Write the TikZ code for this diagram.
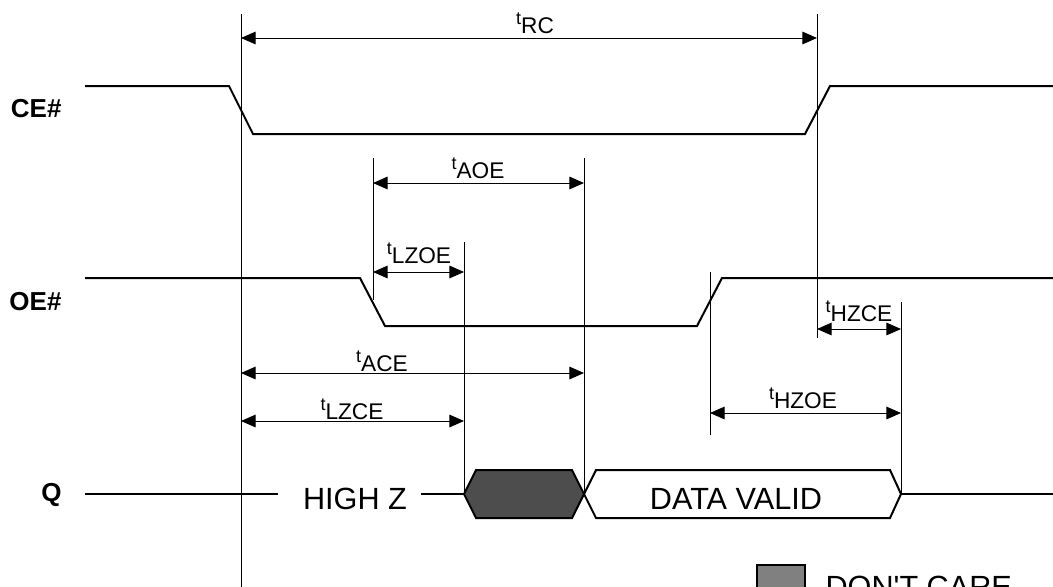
\documentclass[tikz,border=0pt]{standalone}
\usepackage{fontspec}
\setmainfont{Liberation Sans}
\usetikzlibrary{arrows.meta}
\tikzset{every picture/.style={line width=0.75pt}}
\newcommand{\tlab}[1]{\raisebox{6.5pt}{\fontsize{13.5}{13.5}\selectfont t}#1}

\begin{document}
\begin{tikzpicture}[x=0.75pt,y=0.75pt,yscale=-1,xscale=1,
  wave/.style={line width=1.5pt},
  dimline/.style={{Triangle[length=11pt,width=9.5pt]}-{Triangle[length=11pt,width=9.5pt]}},
  tlabel/.style={anchor=base,inner sep=0pt,font=\fontsize{17}{17}\selectfont},
  siglabel/.style={anchor=base east,inner sep=0pt,font=\fontsize{19.5}{19.5}\selectfont\bfseries},
  bustext/.style={anchor=base,inner sep=0pt,font=\fontsize{23}{23}\selectfont}]
\useasboundingbox (0,0) rectangle (1053,586);

%Straight Lines (time marks)
\draw (241,14) -- (241,600) ;
\draw (817,14) -- (817,338) ;
\draw (373,158) -- (373,300) ;
\draw (584,158) -- (584,494) ;
\draw (464,242) -- (464,494) ;
\draw (710,272) -- (710,435) ;
\draw (901,302) -- (901,494) ;

%Shape: CE# wave
\draw [wave] (85,86) -- (229,86) -- (253,134) -- (805,134) -- (830,86) -- (1053,86) ;
%Shape: OE# wave
\draw [wave] (85,278) -- (360,278) -- (385,326) -- (697,326) -- (722,278) -- (1053,278) ;

%Shape: Q bus
\draw [line width=1pt] (85,494) -- (278,494) ;
\draw [line width=1pt] (421,494) -- (464,494) ;
\draw [line width=1.5pt,fill={rgb, 255:red, 77; green, 77; blue, 77 }] (464,494) -- (476,470) -- (572,470) -- (584,494) -- (572,518) -- (476,518) -- cycle ;
\draw [line width=1.5pt,fill=white] (584,494) -- (596,470) -- (890,470) -- (901,494) -- (890,518) -- (596,518) -- cycle ;
\draw [line width=1pt] (901,494) -- (1053,494) ;

%Straight Lines (timing arrows)
\draw [dimline] (241,38) -- (817,38) ;
\draw [dimline] (373,183) -- (584,183) ;
\draw [dimline] (373,272) -- (464,272) ;
\draw [dimline] (241,373) -- (584,373) ;
\draw [dimline] (241,421) -- (464,421) ;
\draw [dimline] (817,329) -- (901,329) ;
\draw [dimline] (710,413) -- (901,413) ;

%Shape: legend box
\draw [line width=1.5pt,fill={rgb, 255:red, 128; green, 128; blue, 128 }] (757,565) rectangle (805,613) ;

% Text Node
\draw (62,117) node [siglabel] (ce) {CE\#};
% Text Node
\draw (62,310) node [siglabel] (oe) {OE\#};
% Text Node
\draw (62,501) node [siglabel] (q) {Q};
% Text Node
\draw (535,33) node [tlabel] (trc) {\tlab{RC}};
% Text Node
\draw (478,178) node [tlabel] (taoe) {\tlab{AOE}};
% Text Node
\draw (419,263) node [tlabel] (tlzoe) {\tlab{LZOE}};
% Text Node
\draw (382,371) node [tlabel] (tace) {\tlab{ACE}};
% Text Node
\draw (352,419) node [tlabel] (tlzce) {\tlab{LZCE}};
% Text Node
\draw (859,321) node [tlabel] (thzce) {\tlab{HZCE}};
% Text Node
\draw (803,408) node [tlabel] (thzoe) {\tlab{HZOE}};
% Text Node
\draw (355,509) node [bustext] (highz) {HIGH Z};
% Text Node
\draw (736,509) node [bustext] (valid) {DATA VALID};
% Text Node
\draw (825,597) node [bustext,anchor=base west] (dontcare) {DON{\textquotesingle}T CARE};

\end{tikzpicture}
\end{document}
